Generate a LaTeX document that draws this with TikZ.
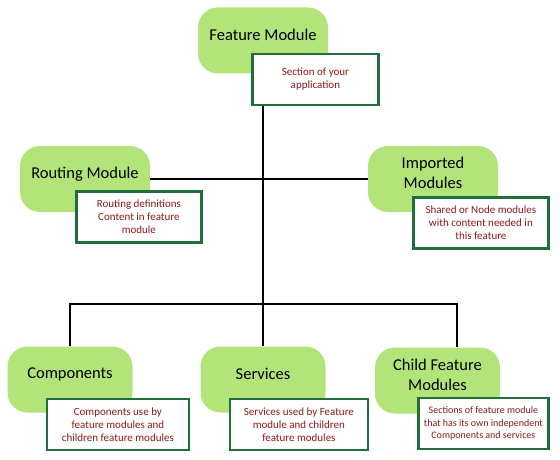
\documentclass[tikz,border=0pt]{standalone}
\usepackage{fontspec}
\setmainfont{Carlito}
\usetikzlibrary{positioning}
\definecolor{leaf}{HTML}{B2E47A}
\definecolor{frame}{HTML}{1F6E3C}
\definecolor{notered}{HTML}{8B1A1A}

\begin{document}
\begin{tikzpicture}[x=1pt, y=-1pt,
    module/.style={fill=leaf, rounded corners=20pt, minimum width=130pt, minimum height=66pt, align=center, text=black, font=\fontsize{16.5}{20}\selectfont, text depth=12pt},
    detail/.style={draw=frame, line width=2.4pt, fill=white, minimum height=51pt, align=center, inner sep=2pt, text=notered, font=\fontsize{11}{13}\selectfont},
    wire/.style={line width=1.2pt}]
    \useasboundingbox (0,0) rectangle (560,460);

    % Define the nodes
    \node[module] (feature) at (263,40.5) {Feature Module};
    \node[module] (routing) at (85,179) {Routing Module};
    \node[module] (imported) at (433,179) {Imported\\Modules};

    \node[module, minimum width=125pt] (comp) at (70,379.5) {Components};
    \node[module, minimum width=125pt] (svc) at (263,379.5) {Services};
    \node[module, minimum width=125pt] (child) at (437.5,380.5) {Child Feature\\Modules};

    \node[detail, minimum width=126pt, below right=-21pt and -77pt of feature] (featnote) {Section of your\\application};
    \node[detail, minimum width=125pt, below right=-22pt and -75pt of routing] (routnote) {Routing definitions\\Content in feature\\module};
    \node[detail, minimum width=135pt, below right=-16pt and -86pt of imported] (impnote) {Shared or Node modules\\with content needed in\\this feature};

    \node[detail, minimum width=142pt, below right=-15pt and -87pt of comp] (compnote) {Components use by\\feature modules and\\children feature modules};
    \node[detail, minimum width=138pt, below right=-15pt and -97pt of svc] (svcnote) {Services used by Feature\\module and children\\feature modules};
    \node[detail, minimum width=130pt, below right=-17pt and -83pt of child, font=\fontsize{10}{12.5}\selectfont] (childnote) {Sections of feature module\\that has its own independent\\Components and services};

    \coordinate (bus) at (263,304);

    % Define the edges
    \draw[wire] (feature |- featnote.south) -- (svc);
    \draw[wire] (routing.east) -- (imported.west);
    \draw[wire] (comp) |- (bus) -| ([xshift=19.5pt]child.north);
\end{tikzpicture}
\end{document}
